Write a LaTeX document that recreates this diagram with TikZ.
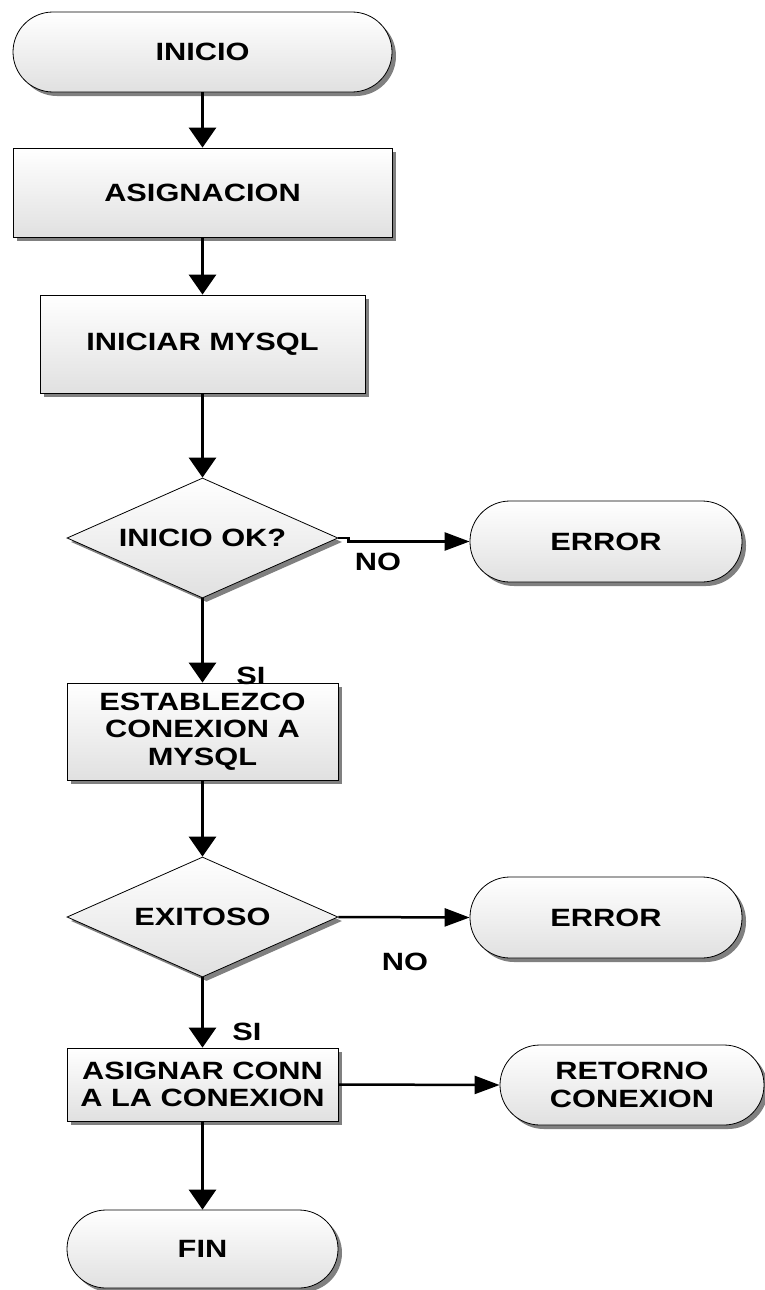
\documentclass[tikz,border=0pt]{standalone}
\usepackage{fontspec}
\setmainfont{Liberation Sans}[FakeStretch=1.23]
\usetikzlibrary{shapes.geometric,shadows,arrows.meta}

\begin{document}
\begin{tikzpicture}[x=1pt,y=-1pt,
    every node/.style={font=\bfseries\fontsize{25}{27.6}\selectfont, align=center},
    flow/.style={draw=black, line width=0.8pt, top color=white, bottom color=black!12,
      drop shadow={shadow xshift=4pt, shadow yshift=-4pt, fill=black!50, opacity=1}},
    term/.style={flow, rectangle, rounded corners=#1, inner sep=0pt},
    box/.style={flow, rectangle, inner sep=0pt},
    ask/.style={flow, diamond, aspect=2.26, inner sep=0pt, minimum width=271pt, minimum height=120pt},
    down/.style={line width=3pt, -{Triangle[length=20pt,width=27pt]}},
    side/.style={line width=2.5pt, -{Triangle[length=25pt,width=18pt]}}]
      \useasboundingbox (0,0) rectangle (764,1290);
      % main column
      \node[term=40pt, minimum width=379pt, minimum height=80pt] (inicio) at (202.5,52) {INICIO};
      \node[box, minimum width=379pt, minimum height=89pt] (asig) at (202.5,192.5) {ASIGNACION};
      \node[box, minimum width=325pt, minimum height=98pt] (mysql) at (202.5,344) {INICIAR MYSQL};
      \node[ask] (ok) at (202.5,538) {INICIO OK?};
      \node[box, minimum width=271pt, minimum height=97pt] (conex) at (202.5,731.5) {ESTABLEZCO\\CONEXION A\\MYSQL};
      \node[ask] (exito) at (202.5,917) {EXITOSO};
      \node[box, minimum width=271pt, minimum height=73pt] (conn) at (202.5,1084.5) {ASIGNAR CONN\\A LA CONEXION};
      \node[term=39pt, minimum width=271pt, minimum height=78pt] (fin) at (202.5,1249) {FIN};
      % right column
      \node[term=40pt, minimum width=272pt, minimum height=81pt] (err1) at (606,541.5) {ERROR};
      \node[term=40pt, minimum width=272pt, minimum height=81pt] (err2) at (606,917.5) {ERROR};
      \node[term=40pt, minimum width=264pt, minimum height=80pt] (ret) at (632,1085) {RETORNO\\CONEXION};
      \draw[down] (inicio) -- (asig);
      \draw[down] (asig) -- (mysql);
      \draw[down] (mysql) -- (ok);
      \draw[down] (ok) -- (conex);
      \draw[down] (conex) -- (exito);
      \draw[down] (exito) -- (conn);
      \draw[down] (conn) -- (fin);
      \draw[side] (ok.east) -- ++(10,0) |- (err1.west);
      \draw[side] (exito.east) -- (err2.west);
      \draw[side] (conn.east) -- (ret.west);
      \node (si1) at (251,676) {SI};
      \node (no1) at (378,562) {NO};
      \node (no2) at (405,962) {NO};
      \node (si2) at (247,1032) {SI};
\end{tikzpicture}
\end{document}
